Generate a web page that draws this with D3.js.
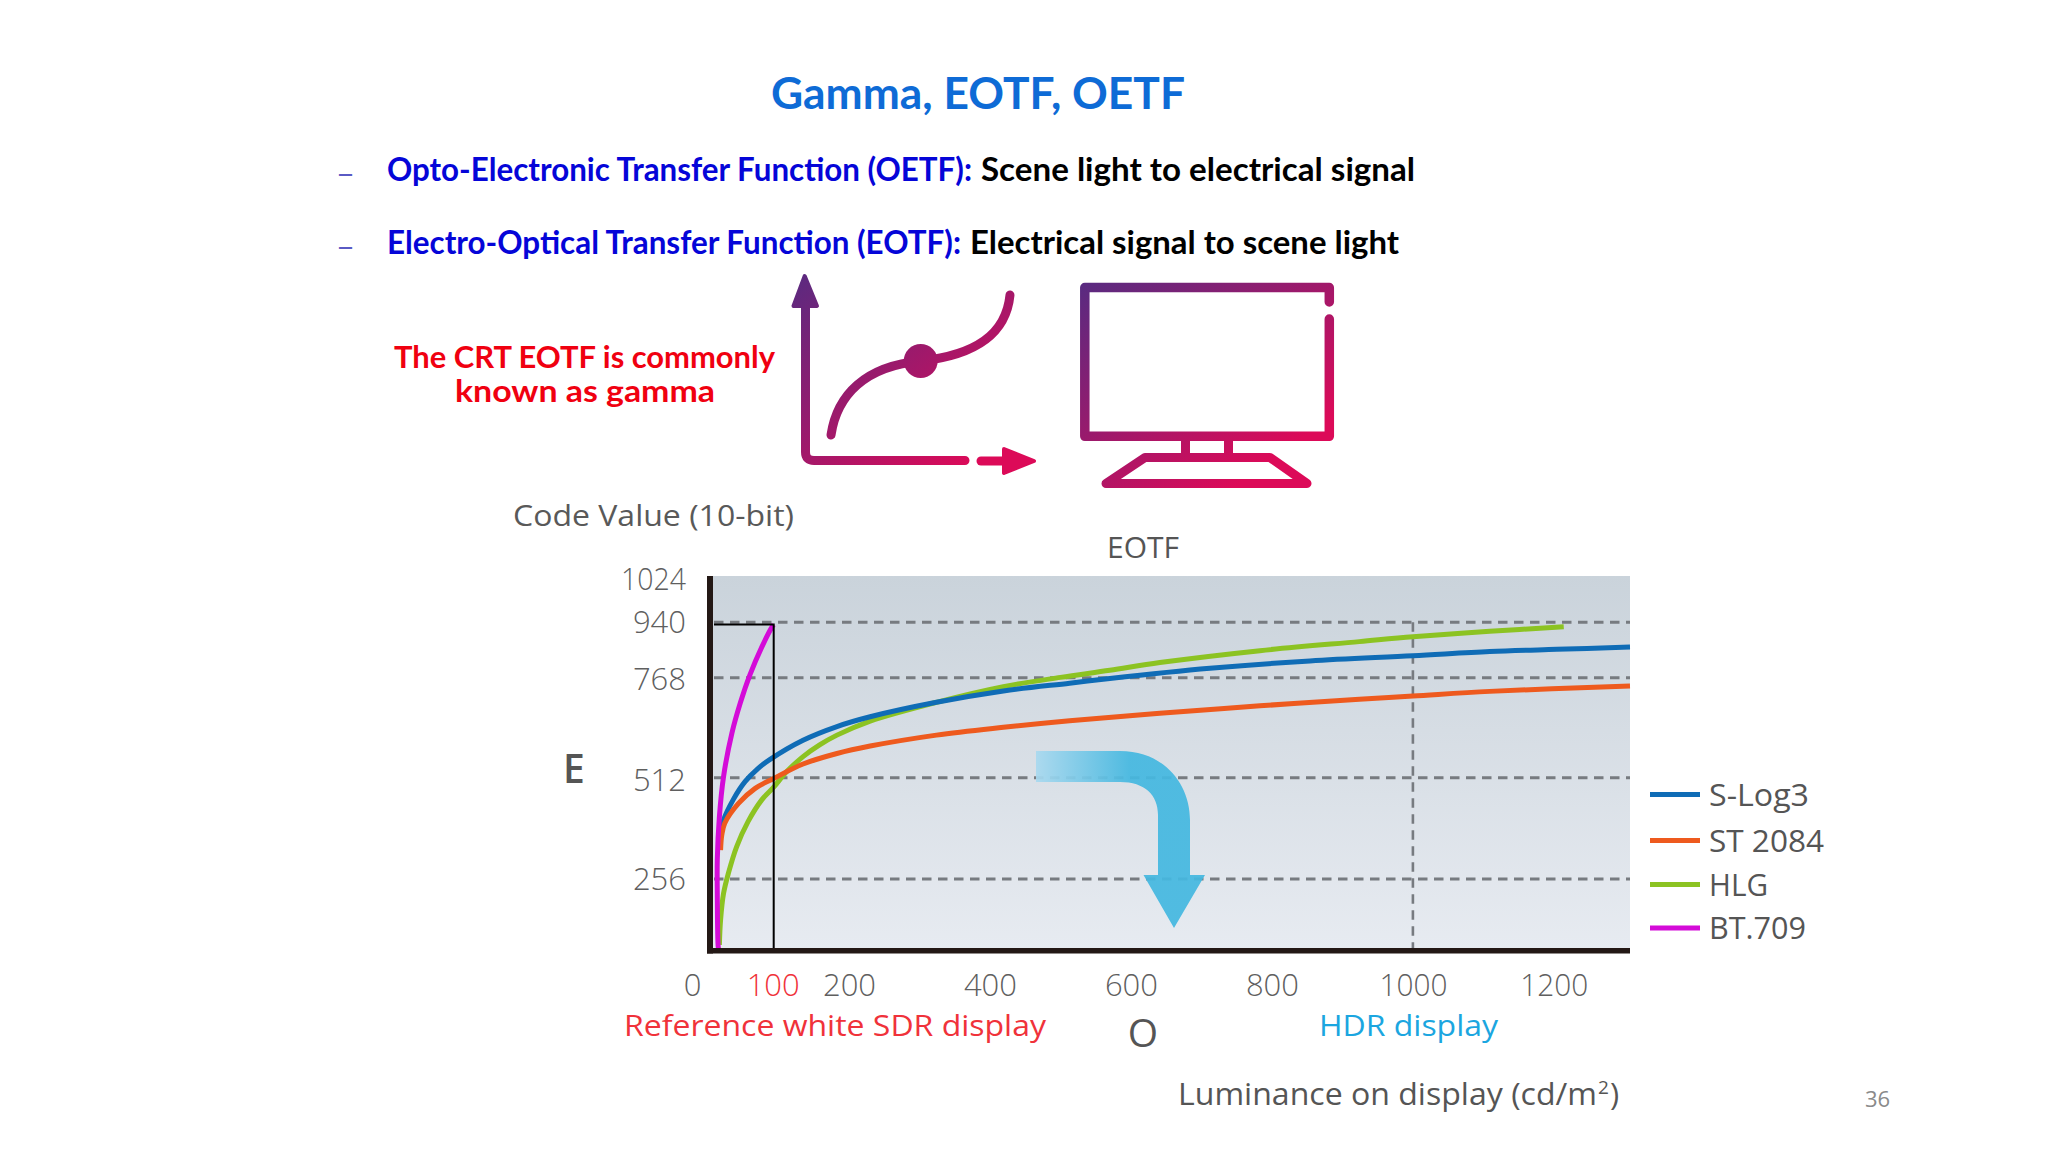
<!DOCTYPE html>
<html><head><meta charset="utf-8">
<script src="https://cdn.jsdelivr.net/npm/d3@7"></script>
<style>html,body{margin:0;background:#fff}svg{display:block}</style></head>
<body><svg id="c" width="2048" height="1152"></svg>
<script>
const xTicks=[0,100,200,400,600,800,1000,1200];
const yTicks=[256,512,768,940,1024];
const gridLevels=[256,512,768,940];
const gridLuminance=[1000];
const sdrWhite=[100,933];
const legendNames=["S-Log3","ST 2084","HLG","BT.709"];
const legendColors=["#0f6cb6","#ee5a1e","#8cc322","#d40bd8"];
const sLog3=[[13,380],[16,405],[32,456],[52,502],[74,536],[94,559],[139,608],[184,643],[230,668],[324,705],[419,734],[513,754],[570,766],[712,797],[854,820],[1000,836],[1109,849],[1204,856],[1308,863]];
const st2084=[[11,329],[13,367],[18,397],[41,447],[69,485],[100,510],[139,547],[184,574],[230,593],[324,621],[419,641],[513,658],[641,677],[783,696],[924,713],[1000,721],[1109,733],[1308,747]];
const hlg=[[9,18],[11,108],[16,204],[24,270],[38,338],[57,401],[80,456],[100,488],[117,527],[139,566],[161,596],[184,621],[230,657],[324,705],[419,745],[500,769],[570,791],[641,815],[783,852],[924,880],[1000,895],[1109,912],[1214,926]];
const bt709=[[8,0],[7,12],[5.5,205],[5.5,304],[9,413],[16,515],[30,626],[44,703],[60,776],[80,863],[98,928],[100,933]];

const svg=d3.select("#c");
const defs=svg.append("defs");
function lg(id,x1,y1,x2,y2,stops,abs){
  const g=defs.append("linearGradient").attr("id",id).attr("x1",x1).attr("y1",y1).attr("x2",x2).attr("y2",y2);
  if(abs)g.attr("gradientUnits","userSpaceOnUse");
  stops.forEach(s=>g.append("stop").attr("offset",s[0]).attr("stop-color",s[1]));
}
lg("bg",0,0,0,1,[[0,"#cad3db"],[1,"#e7ebf1"]]);
const iconStops=[[0,"#5a2a80"],[0.5,"#9a1a6c"],[1,"#dc0a58"]];
lg("iconA",795,275,960,475,iconStops,true);
lg("iconB",1085,285,1230,490,iconStops,true);
lg("arr",1036,0,1130,0,[[0,"#a9d9ef"],[1,"#45b8e0"]],true);

const SLIDE='Lato, "Noto Sans", sans-serif', BODY='"Open Sans", "Noto Sans", sans-serif';
function txt(s,x,y,size,fill,o={}){
  const t=svg.append("text").attr("x",x).attr("y",y).attr("font-size",size).attr("fill",fill)
    .attr("font-family",o.font||BODY).attr("font-weight",o.weight||400).attr("text-anchor",o.anchor||"start").text(s);
  if(o.len)t.attr("textLength",o.len).attr("lengthAdjust","spacingAndGlyphs");
  return t;
}
const B={font:SLIDE,weight:700};
txt("Gamma, EOTF, OETF",771,109,44,"#0e6bd6",{...B,len:414});
txt("–",336,184,30,"#5a5ac4",{font:SLIDE,len:19});
txt("–",336,257,30,"#5a5ac4",{font:SLIDE,len:19});
txt("Opto-Electronic Transfer Function (OETF):",387,181,32,"#0505d8",{...B,len:585});
txt("Scene light to electrical signal",981,181,32,"#000",{...B,len:434});
txt("Electro-Optical Transfer Function (EOTF):",387,254,32,"#0505d8",{...B,len:574});
txt("Electrical signal to scene light",970,254,32,"#000",{...B,len:429});
txt("The CRT EOTF is commonly",394,368,31,"#f00010",{...B,len:381});
txt("known as gamma",455,402,31,"#f00010",{...B,len:260});

// icons
const iconA=svg.append("g").attr("fill","none").attr("stroke","url(#iconA)").attr("stroke-linecap","round").attr("stroke-linejoin","round");
iconA.append("path").attr("stroke-width",9).attr("d","M805.5 305 V452 Q805.5 460.5 814 460.5 H965");
iconA.append("path").attr("stroke-width",4).attr("fill","url(#iconA)").attr("d","M804.7 276 L817 306 L793.5 306 Z");
iconA.append("path").attr("stroke-width",9).attr("d","M981 461 H1005");
iconA.append("path").attr("stroke-width",4).attr("fill","url(#iconA)").attr("d","M1004 449 L1034 461 L1004 473 Z");
iconA.append("path").attr("stroke-width",9).attr("d","M831 435 C837 395 865 366 921 361 C975 355 1006 335 1010 295");
iconA.append("circle").attr("cx",920.7).attr("cy",361).attr("r",17).attr("fill","url(#iconA)").attr("stroke","none");
const iconB=svg.append("g").attr("fill","none").attr("stroke","url(#iconB)").attr("stroke-linecap","round").attr("stroke-linejoin","round");
iconB.append("path").attr("stroke-width",9.5).attr("d","M1329.3 302 V287.5 H1084.8 V436.3 H1329.3 V319");
iconB.append("path").attr("stroke-width",9).attr("stroke-linecap","butt").attr("d","M1185.5 440 V455 M1228.5 440 V455");
iconB.append("path").attr("stroke-width",9).attr("d","M1145 457.5 H1270 L1307 483.5 H1106 Z");

// chart
const X0=714,XR=1630,YB=950,YT=576;
const x=d3.scaleLinear().domain([0,100,200,1308]).range([X0,773.7,849,XR]);
const y=d3.scaleLinear().domain([0,256,512,768,940,1024]).range([YB,879,777.7,677.7,622.3,YT]);
const plot=svg.append("g");
plot.append("rect").attr("x",x(0)-2).attr("y",y(1024)).attr("width",XR-X0+2).attr("height",YB-YT).attr("fill","url(#bg)");
plot.selectAll(".gh").data(gridLevels).join("line").attr("x1",x(0)).attr("x2",XR)
  .attr("y1",d=>y(d)).attr("y2",d=>y(d)).attr("stroke","#777b80").attr("stroke-width",3).attr("stroke-dasharray","9.5 6.5");
plot.selectAll(".gv").data(gridLuminance).join("line").attr("x1",d=>x(d)).attr("x2",d=>x(d))
  .attr("y1",y(940)).attr("y2",YB).attr("stroke","#777b80").attr("stroke-width",2.6).attr("stroke-dasharray","9.5 6.5");

const line=d3.line().x(d=>x(d[0])).y(d=>y(d[1])).curve(d3.curveCatmullRom.alpha(0.5));
[[hlg,2],[sLog3,0],[st2084,1],[bt709,3]].forEach(([d,i])=>{
  plot.append("path").datum(d).attr("fill","none").attr("stroke",legendColors[i]).attr("stroke-width",5).attr("d",line);
});
plot.append("path").attr("fill","none").attr("stroke","#000").attr("stroke-width",2)
  .attr("d",`M${x(0)} ${y(sdrWhite[1])} H${x(sdrWhite[0])} V${YB}`);
plot.append("line").attr("x1",710).attr("x2",710).attr("y1",YT).attr("y2",953.5).attr("stroke","#231815").attr("stroke-width",6);
plot.append("line").attr("x1",707).attr("x2",XR).attr("y1",950.7).attr("y2",950.7).attr("stroke","#231815").attr("stroke-width",5.6);

// axes
const ax=svg.append("g").attr("transform",`translate(0,${YB})`).call(d3.axisBottom(x).tickValues(xTicks).tickSize(0).tickPadding(24).tickFormat(d3.format("d")));
ax.select(".domain").remove();
ax.selectAll("text").attr("font-size",31).attr("font-family",BODY).attr("font-weight",300).attr("fill",d=>d===100?"#f0323a":"#5f5f5f")
  .attr("dx",d=>d===0?-22:(d===100?-1:0))
  .each(function(d){ if(d>=1000) d3.select(this).attr("textLength",68).attr("lengthAdjust","spacingAndGlyphs"); });
const ay=svg.append("g").attr("transform","translate(686,0)").call(d3.axisLeft(y).tickValues(yTicks).tickSize(0).tickPadding(0).tickFormat(d3.format("d")));
ay.select(".domain").remove();
ay.selectAll("text").attr("font-size",31).attr("font-family",BODY).attr("font-weight",300).attr("fill","#5f5f5f")
  .attr("y",d=>({1024:4,940:0,768:2,512:3,256:1})[d])
  .each(function(d){ if(d>=1000) d3.select(this).attr("textLength",65).attr("lengthAdjust","spacingAndGlyphs"); });

txt("Code Value (10-bit)",513,526,30,"#595959",{len:281,weight:500});
txt("EOTF",1143,558,30,"#555",{anchor:"middle",weight:500});
txt("E",563,783,39,"#555",{weight:600});
txt("O",1143,1047,39,"#555",{anchor:"middle",weight:500});
txt("Reference white SDR display",624,1036,30,"#f0323a",{len:422});
txt("HDR display",1319,1036,30,"#1ba6e0",{len:179});
txt("Luminance on display (cd/m",1178,1105,31,"#555",{len:419,weight:500});
txt("2",1598,1094,19,"#555",{weight:500});
txt(")",1610,1105,31,"#555",{weight:500});
txt("36",1865,1107,22,"#8a8a8a");

// legend
const leg=svg.selectAll(".lg").data(legendNames).join("g").attr("transform",(d,i)=>`translate(1650,${[794.5,840.5,884.5,928][i]})`);
leg.append("line").attr("x2",50).attr("stroke",(d,i)=>legendColors[i]).attr("stroke-width",5);
leg.append("text").attr("x",59).attr("y",11).attr("font-size",31).attr("font-family",BODY).attr("font-weight",500).attr("fill","#555")
  .attr("textLength",(d,i)=>[100,115,59,97][i]).attr("lengthAdjust","spacingAndGlyphs").text(d=>d);

// bent arrow
svg.append("path").attr("fill","url(#arr)").attr("opacity",0.93).attr("d","M1036 751 H1120 C1165 751 1190 785 1190 820 V875 H1205 L1174 928 L1143.5 875 H1158 V815 C1158 795 1145 782 1120 782 H1036 Z");
</script></body></html>
